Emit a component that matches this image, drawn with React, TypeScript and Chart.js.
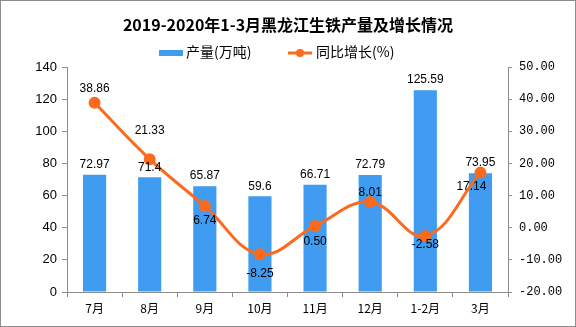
import React, { useEffect, useRef } from "react";
import { Chart, registerables } from "chart.js";

Chart.register(...registerables);

const categories = ["7月", "8月", "9月", "10月", "11月", "12月", "1-2月", "3月"];
const output = [72.97, 71.4, 65.87, 59.6, 66.71, 72.79, 125.59, 73.95];
const growth = [38.86, 21.33, 6.74, -8.25, 0.5, 8.01, -2.58, 17.14];
const title = "2019-2020年1-3月黑龙江生铁产量及增长情况";
const barLabel = "产量(万吨)";
const lineLabel = "同比增长(%)";

// label placement style (pixel offsets from each point), not data
const growthLabelDy = [-14, -28, 15, 19, 16, -9, 9, 14];
const growthLabelDx = [0, 0, 0, 0, 0, 0, 0, -9];

const BAR_COLOR = "#3f9cf0";
const LINE_COLOR = "#fb6a1d";
const AXIS_COLOR = "#8c8c8c";
const CJK = "'Noto Sans CJK SC', sans-serif";

const decorPlugin = {
  id: "decor",
  beforeDraw(chart: any) {
    const ctx = chart.ctx;
    ctx.save();
    ctx.fillStyle = "#ffffff";
    ctx.fillRect(0, 0, chart.width, chart.height);
    ctx.restore();
  },
  afterDraw(chart: any) {
    const ctx = chart.ctx;
    ctx.save();
    ctx.strokeStyle = AXIS_COLOR;
    ctx.lineWidth = 1;
    ctx.strokeRect(0.5, 0.5, chart.width - 1, chart.height - 1);
    ctx.fillStyle = "#000";
    ctx.font = "bold 16px " + CJK;
    ctx.textAlign = "center";
    ctx.textBaseline = "middle";
    ctx.fillText(title, 288, 25);
    ctx.font = "14px " + CJK;
    ctx.textAlign = "left";
    ctx.fillStyle = BAR_COLOR;
    ctx.fillRect(159, 50, 24, 6);
    ctx.fillStyle = "#000";
    ctx.fillText(barLabel, 186, 52);
    ctx.strokeStyle = LINE_COLOR;
    ctx.lineWidth = 3;
    ctx.beginPath();
    ctx.moveTo(288, 53);
    ctx.lineTo(312, 53);
    ctx.stroke();
    ctx.fillStyle = LINE_COLOR;
    ctx.beginPath();
    ctx.arc(300, 53, 4, 0, Math.PI * 2);
    ctx.fill();
    ctx.fillStyle = "#000";
    ctx.fillText(lineLabel, 316, 52);

    ctx.font = "12px 'Liberation Sans', sans-serif";
    ctx.textAlign = "center";
    ctx.textBaseline = "middle";
    const barMeta = chart.getDatasetMeta(0);
    barMeta.data.forEach((el: any, i: number) => {
      ctx.fillText(String(output[i]), el.x, el.y - 10);
    });
    const lineMeta = chart.getDatasetMeta(1);
    lineMeta.data.forEach((el: any, i: number) => {
      ctx.fillText(growth[i].toFixed(2), el.x + growthLabelDx[i], el.y + growthLabelDy[i]);
    });
    ctx.restore();
  },
};

export default function App() {
  const ref = useRef<HTMLCanvasElement | null>(null);
  useEffect(() => {
    if (!ref.current) return;
    const chart = new Chart(ref.current, {
      type: "bar",
      data: {
        labels: categories,
        datasets: [
          {
            type: "bar",
            label: barLabel,
            data: output,
            backgroundColor: BAR_COLOR,
            yAxisID: "y",
            categoryPercentage: 1,
            barPercentage: 0.42,
            order: 1,
          },
          {
            type: "line",
            label: lineLabel,
            data: growth,
            borderColor: LINE_COLOR,
            backgroundColor: LINE_COLOR,
            borderWidth: 3,
            pointRadius: 4.5,
            pointBackgroundColor: LINE_COLOR,
            pointBorderColor: LINE_COLOR,
            tension: 0.4,
            yAxisID: "y1",
            order: 0,
          } as any,
        ],
      },
      options: {
        responsive: false,
        animation: false,
        devicePixelRatio: 1,
        layout: { padding: { top: 67, left: 0, right: 0, bottom: 0 } },
        plugins: {
          legend: { display: false },
          title: { display: false },
          tooltip: { enabled: false },
        },
        scales: {
          x: {
            grid: {
              offset: true,
              drawOnChartArea: false,
              drawTicks: true,
              tickLength: 5,
              color: AXIS_COLOR,
            },
            border: { display: true, color: AXIS_COLOR },
            ticks: {
              color: "#000",
              font: { family: CJK, size: 12 },
              padding: 4,
              maxRotation: 0,
              autoSkip: false,
            },
            afterFit(scale: any) {
              scale.height = 35;
            },
          },
          y: {
            position: "left",
            min: 0,
            max: 140,
            ticks: {
              stepSize: 20,
              color: "#000",
              font: { family: "'Liberation Sans', sans-serif", size: 13 },
              padding: 5,
            },
            grid: {
              drawOnChartArea: false,
              drawTicks: true,
              tickLength: 5,
              color: AXIS_COLOR,
            },
            border: { display: true, color: AXIS_COLOR },
            afterFit(scale: any) {
              scale.width = 67;
            },
          },
          y1: {
            position: "right",
            min: -20,
            max: 50,
            ticks: {
              stepSize: 10,
              color: "#000",
              font: { family: "'Liberation Mono', monospace", size: 12 },
              padding: 7,
              callback: (v: any) => Number(v).toFixed(2),
            },
            grid: {
              drawOnChartArea: false,
              drawTicks: true,
              tickLength: 4,
              color: AXIS_COLOR,
            },
            border: { display: true, color: AXIS_COLOR },
            afterFit(scale: any) {
              scale.width = 68;
            },
          },
        },
      },
      plugins: [decorPlugin],
    } as any);
    return () => chart.destroy();
  }, []);
  return (
    <div style={{ position: "absolute", left: 0, top: 0, width: 576, height: 327 }}>
      <canvas ref={ref} width={576} height={327} style={{ display: "block" }} />
    </div>
  );
}
